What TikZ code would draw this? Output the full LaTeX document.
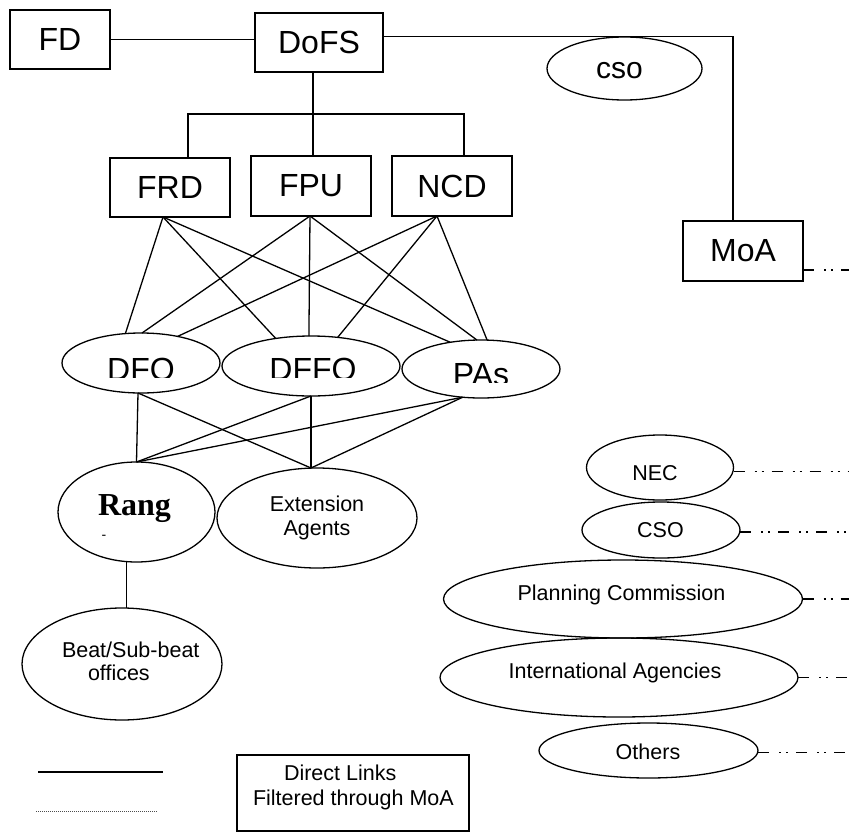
\documentclass[tikz,border=0pt]{standalone}
\usepackage{fontspec}
\setmainfont{Liberation Sans}
\newfontfamily\rangfont{Liberation Serif}
\usetikzlibrary{shapes.geometric}

\begin{document}
\begin{tikzpicture}[x=1pt,y=-1pt,
  every node/.style={inner sep=0pt,outer sep=0pt},
  unitbox/.style={draw,rectangle,line width=1.3pt,
    minimum width=120pt,minimum height=60pt,
    font=\fontsize{32}{36}\selectfont},
  oval/.style={draw,ellipse,line width=1.3pt,align=center,
    font=\fontsize{21.5}{24}\selectfont},
  bigtext/.style={anchor=base,font=\fontsize{32}{36}\selectfont},
  smalltext/.style={anchor=base,font=\fontsize{21.5}{24}\selectfont},
  link/.style={line width=1.3pt},
  filtered/.style={line width=1.6pt,
    dash pattern=on 11pt off 10pt on 2pt off 5pt on 2pt off 8pt},
  dottedkey/.style={line width=1pt,black!70,dash pattern=on 1pt off 1pt}
]
\useasboundingbox (0,0) rectangle (849,833);

% ---------- top level units ----------
\node[unitbox,minimum width=100pt,minimum height=59pt] (FD) at (60,39.5) {FD};
\node[unitbox,minimum width=128pt,minimum height=59pt] (DoFS) at (319,42.5) {DoFS};
\node[unitbox,minimum height=59pt] (FRD) at (170,187.5) {FRD};
\node[unitbox] (FPU) at (311,186) {FPU};
\node[unitbox] (NCD) at (452,186) {NCD};
\node[unitbox] (MoA) at (743,251) {MoA};

\node[oval,minimum width=155pt,minimum height=63pt] (cso) at (624.5,68.5) {};
\node[anchor=base,font=\fontsize{30}{34}\selectfont] (csotext) at (619.5,78.3) {cso};

% ---------- field level ----------
\node[oval,minimum width=158pt,minimum height=60pt] (DFO) at (141,363) {};
\node[oval,minimum width=178pt,minimum height=60pt] (DFFO) at (311,366) {};
\node[oval,minimum width=158pt,minimum height=58pt] (PAs) at (481,369) {};

\begin{scope}
  \clip (60,330) rectangle (230,377);
  \node[bigtext] (DFOtext) at (141,380) {DFO};
\end{scope}
\begin{scope}
  \clip (230,330) rectangle (400,377);
  \node[bigtext] (DFFOtext) at (313,380) {DFFO};
\end{scope}
\begin{scope}
  \clip (405,330) rectangle (560,382);
  \node[bigtext] (PAstext) at (481,385) {PAs};
\end{scope}

\node[oval,minimum width=157pt,minimum height=100pt] (Rang) at (136.5,512) {};
\node[anchor=base,font=\rangfont\bfseries\fontsize{32}{36}\selectfont] (Rangtext) at (134.5,515) {Rang};
\node[font=\fontsize{14}{14}\selectfont] (Rangmark) at (104,537) {-};

\node[oval,minimum width=200pt,minimum height=100pt] (Ext) at (317,518) {Extension\\Agents};

\node[oval,minimum width=200pt,minimum height=112pt] (Beat) at (122,664) {};
% the base anchor of a two-line node sits on its last line
\node[anchor=base west,align=left,font=\fontsize{21.5}{23}\selectfont] (Beattext) at (62,680)
  {Beat/Sub-beat\\\hspace*{26pt}offices};

% ---------- bodies outside the department ----------
\node[oval,minimum width=147pt,minimum height=65pt] (NEC) at (660,467.5) {};
\node[smalltext] (NECtext) at (655,480) {NEC};
\node[oval,minimum width=158pt,minimum height=56pt] (CSO) at (661,530) {};
\node[smalltext] (CSOtext) at (660.5,537) {CSO};
\node[oval,minimum width=359pt,minimum height=78pt] (PC) at (623,599) {};
\node[smalltext] (PCtext) at (621.5,600) {Planning Commission};
\node[oval,minimum width=358pt,minimum height=79pt] (IA) at (619,677.5) {};
\node[smalltext] (IAtext) at (615,678) {International Agencies};
\node[oval,minimum width=219pt,minimum height=55pt] (Others) at (648.5,750.5) {};
\node[smalltext] (Otherstext) at (648,759) {Others};

% ---------- key ----------
\node[draw,rectangle,line width=1.3pt,minimum width=232pt,minimum height=76pt] (keybox) at (353,793) {};
\node[anchor=base west,align=left,font=\fontsize{21.5}{25}\selectfont] (keytext) at (253,805)
  {\hspace*{31pt}Direct Links\\Filtered through MoA};
\coordinate (solidA) at (38,772);
\coordinate (solidB) at (163,772);
\coordinate (dotA) at (36,811);
\coordinate (dotB) at (158,811);
\draw[link,line width=2pt] (solidA) -- (solidB);
\draw[dottedkey] (dotA) -- (dotB);

% ---------- direct links ----------
\coordinate (edge) at (849,0);
\coordinate (busL) at (188,114);
\coordinate (busR) at (464,114);

\draw[link] (FD.east) -- (FD.east -| DoFS.west);
\draw[link] ([yshift=6pt]DoFS.east) -| ([xshift=-10pt]MoA.north);
\draw[link] ([xshift=-6pt]DoFS.south) -- ([xshift=-6pt]DoFS.south |- FPU.north);
\draw[link] ([xshift=18pt]FRD.north) -- (busL) -- (busR) -- ([xshift=12pt]NCD.north);

\draw[link] ([xshift=-7pt]FRD.south) -- (DFO.118.6);
\draw[link] ([xshift=-7pt]FRD.south) -- (DFFO.142.7);
\draw[link] ([xshift=-7pt]FRD.south) -- (PAs.139.3);
\draw[link] ([xshift=-1pt]FPU.south) -- (DFO.88);
\draw[link] ([xshift=-1pt]FPU.south) -- (DFFO.94);
\draw[link] ([xshift=-1pt]FPU.south) -- (PAs.98);
\draw[link] ([xshift=-15pt]NCD.south) -- (DFO.36.6);
\draw[link] ([xshift=-15pt]NCD.south) -- (DFFO.47.8);
\draw[link] ([xshift=-15pt]NCD.south) -- (PAs.78);

\draw[link] ([xshift=-3pt]DFO.south) -- (Rang.north);
\draw[link] ([xshift=-3pt]DFO.south) -- ([xshift=-6pt]Ext.north);
\draw[link] (DFFO.south) -- (Rang.north);
\draw[link] (DFFO.south) -- ([xshift=-6pt]Ext.north);
\draw[link] (PAs.237) -- (Rang.north);
\draw[link] (PAs.237) -- ([xshift=-6pt]Ext.north);

\draw[link] ([xshift=-10pt]Rang.south) -- ([xshift=-10pt]Rang.south |- Beat.north);

% ---------- links filtered through MoA ----------
\draw[filtered] ([yshift=-19pt]MoA.east) -- ([yshift=-19pt]MoA.east -| edge);
\draw[filtered] ([yshift=-4pt]NEC.east) -- ([yshift=-4pt]NEC.east -| edge);
\draw[filtered] ([yshift=-2pt]CSO.east) -- ([yshift=-2pt]CSO.east -| edge);
\draw[filtered] (PC.east) -- (PC.east -| edge);
\draw[filtered] (IA.east) -- (IA.east -| edge);
\draw[filtered] ([yshift=-2pt]Others.east) -- ([yshift=-2pt]Others.east -| edge);
\end{tikzpicture}
\end{document}
